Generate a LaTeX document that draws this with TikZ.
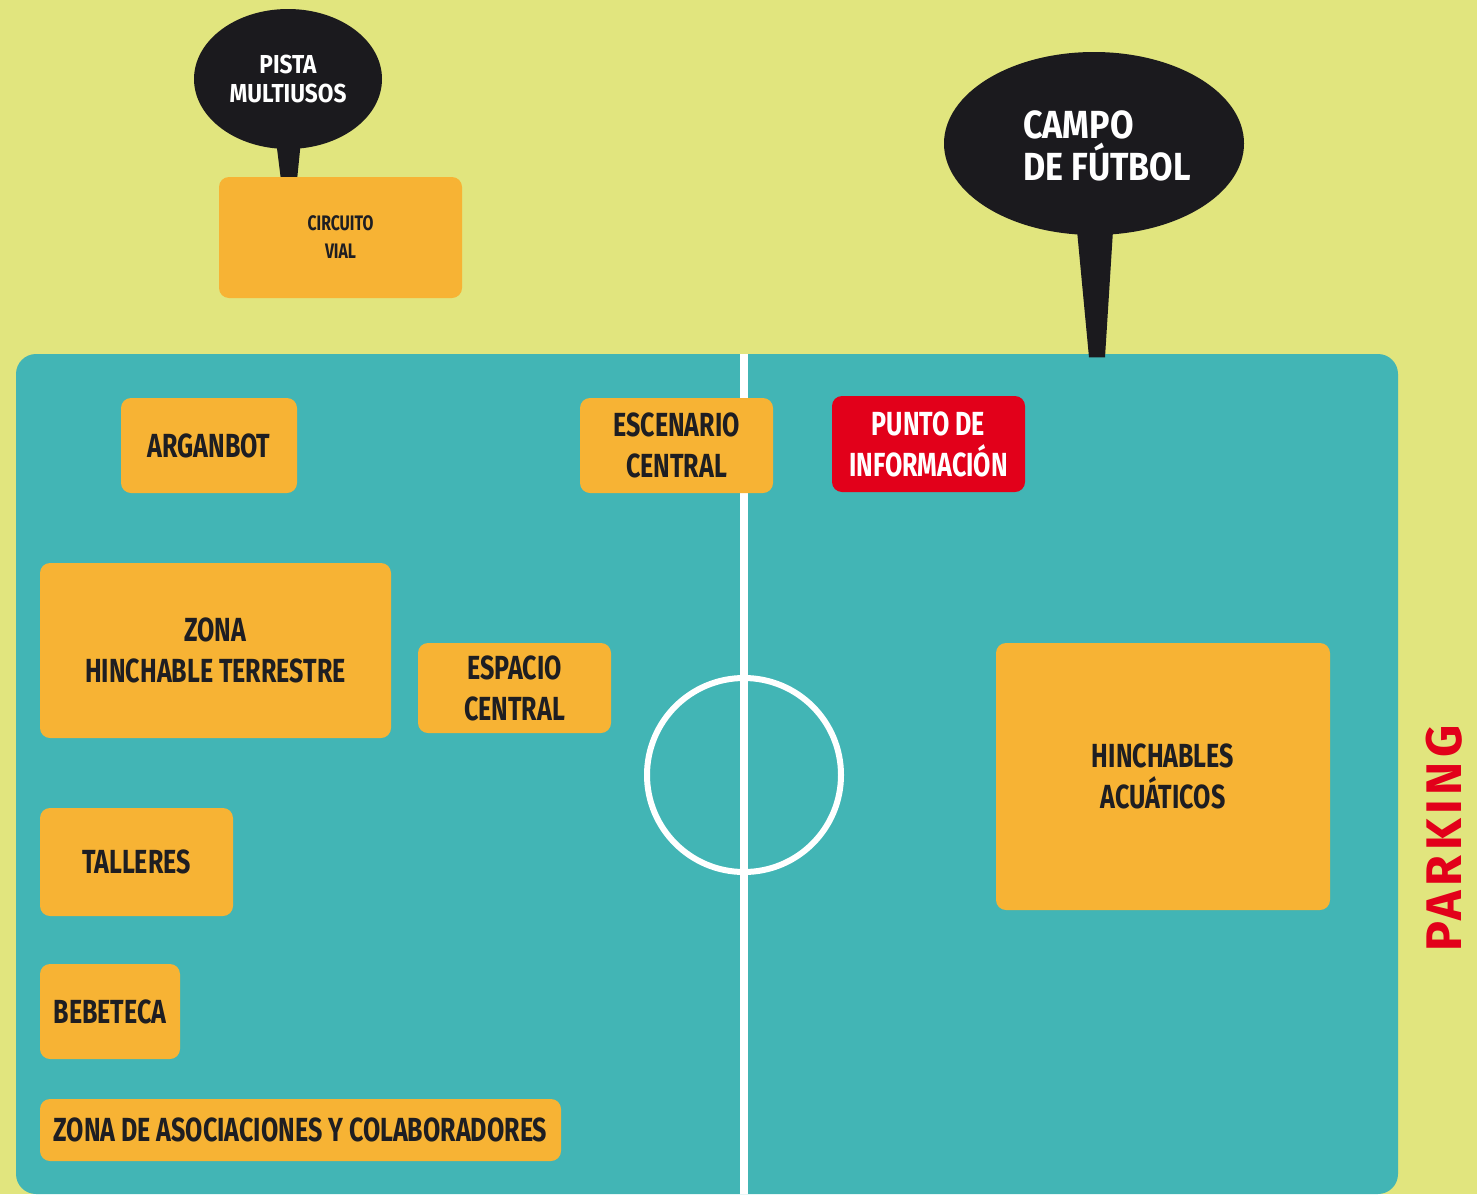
\documentclass[tikz,border=0pt]{standalone}
\usepackage{fontspec}
\setmainfont{Fira Sans}
\newfontfamily\zonefont{Fira Sans}[FakeStretch=0.75]
\newfontfamily\signfont{Fira Sans}[FakeStretch=0.87]
\newfontfamily\parkfont{Fira Sans}[LetterSpace=9]
\usetikzlibrary{positioning,shapes.geometric,calc}
\definecolor{lawn}{RGB}{225,229,126}
\definecolor{pitch}{RGB}{66,181,181}
\definecolor{zoneorange}{RGB}{247,179,52}
\definecolor{infored}{RGB}{226,0,26}
\definecolor{signblack}{RGB}{27,26,30}
\definecolor{ink}{RGB}{30,30,34}

\begin{document}
\begin{tikzpicture}[x=0.5pt,y=-0.5pt,
    zone/.style={fill=zoneorange,rounded corners=5pt,text=ink,align=center,inner sep=0pt,
      font={\zonefont\bfseries\fontsize{16.7pt}{20.5pt}\selectfont}},
    sign/.style={ellipse,fill=signblack,text=white,align=center,inner sep=0pt},
    pitchline/.style={draw=white,line width=4pt}]
    \useasboundingbox (0,0) rectangle (1477,1194);
    \fill[lawn] (0,0) rectangle (1477,1194);
    \fill[pitch,rounded corners=10pt] (16,354) rectangle (1398,1194);
    \coordinate (midtop) at (744,354);
    \coordinate (midbottom) at (744,1194);
    \draw[pitchline] (midtop) -- (midbottom);
    \draw[pitchline,line width=3pt] (744,775) circle[radius=97];

    \node[sign,minimum width=94pt,minimum height=70pt,
      font={\signfont\bfseries\fontsize{13pt}{14.5pt}\selectfont}] (pista) at (288,79) {PISTA\\MULTIUSOS};
    \fill[signblack] ($(pista.south)+(-12,-9)$) -- ($(pista.south)+(13,-9)$)
      -- ($(pista.south)+(9,31)$) -- ($(pista.south)+(-7,31)$) -- cycle;
    \node[sign,minimum width=150pt,minimum height=91.5pt] (campo) at (1094,143.5) {};
    \node[text=white,align=left,font={\signfont\bfseries\fontsize{19.6pt}{21pt}\selectfont}]
      (campolabel) at (1107,146) {CAMPO\\DE FÚTBOL};
    \fill[signblack] ($(campo.south)+(-17,-5)$) -- ($(campo.south)+(19,-5)$)
      -- ($(campo.south)+(11,122)$) -- ($(campo.south)+(-5,122)$) -- cycle;

    \node[zone,minimum width=121.5pt,minimum height=60.5pt,
      font={\zonefont\bfseries\fontsize{10.5pt}{14pt}\selectfont}] (circuito) at (340.5,237.5) {CIRCUITO\\VIAL};
    \node[zone,minimum width=88pt,minimum height=47.5pt] (arganbot) at (209,445.5) {ARGANBOT};
    \node[zone,minimum width=96.5pt,minimum height=47.5pt] (escenario) at (676.5,445.5) {ESCENARIO\\CENTRAL};
    \node[zone,fill=infored,text=white,minimum width=96.5pt,minimum height=48pt] (info) at (928.5,444) {PUNTO DE\\INFORMACIÓN};
    \node[zone,minimum width=175.5pt,minimum height=87.5pt] (terrestre) at (215.5,650.5) {ZONA\\HINCHABLE TERRESTRE};
    \node[zone,minimum width=96.5pt,minimum height=45pt] (espacio) at (514.5,688) {ESPACIO\\CENTRAL};
    \node[zone,minimum width=167pt,minimum height=133.5pt] (acuaticos) at (1163,776.5) {HINCHABLES\\ACUÁTICOS};
    \node[zone,minimum width=96.5pt,minimum height=54pt] (talleres) at (136.5,862) {TALLERES};
    \node[zone,minimum width=70pt,minimum height=47.5pt] (bebeteca) at (110,1011.5) {BEBETECA};
    \node[zone,minimum width=260.5pt,minimum height=31pt] (asociaciones) at (300.5,1130) {ZONA DE ASOCIACIONES Y COLABORADORES};

    \node[rotate=90,inner sep=0pt,text=infored,font={\parkfont\bfseries\fontsize{25pt}{25pt}\selectfont}] (parking) at (1444,838.5) {PARKING};
\end{tikzpicture}
\end{document}
